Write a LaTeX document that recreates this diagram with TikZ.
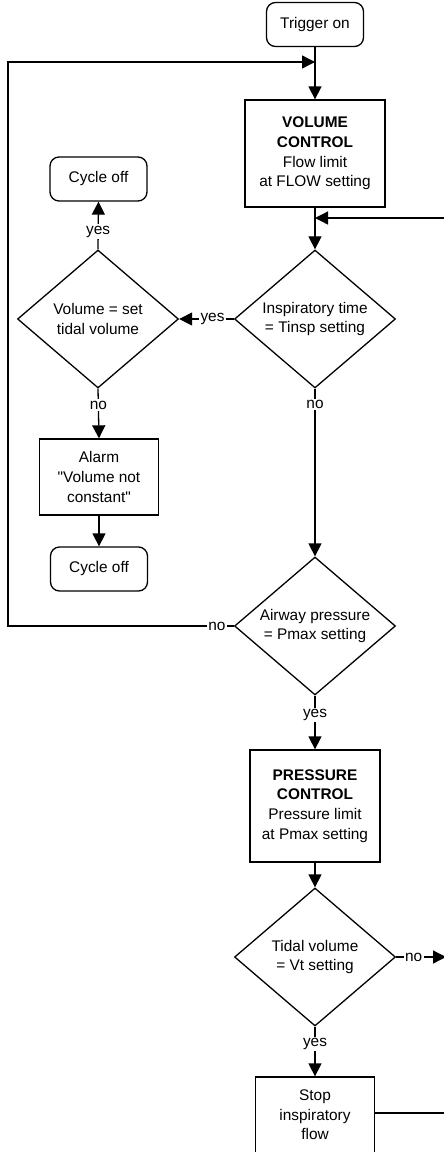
\documentclass[tikz,border=0pt]{standalone}
\usepackage{fontspec}
\setmainfont{Liberation Sans}[Ligatures=TeXOff]
\usetikzlibrary{shapes.geometric,arrows.meta}
\begin{document}
\begin{tikzpicture}[x=1pt,y=-1pt,
  every node/.style={font=\fontsize{15.4}{19.6}\selectfont},
  termbox/.style={draw, rounded corners=9pt, minimum width=97pt, minimum height=44pt, inner sep=0pt, line width=1.3pt},
  procbox/.style={draw, align=center, inner sep=0pt, line width=1.3pt},
  decision/.style={draw, diamond, shape aspect=1.17, minimum width=161pt, minimum height=138pt, inner sep=0pt, align=center, line width=1.3pt},
  conn/.style={line width=1.3pt},
  arr/.style={conn, -{Triangle[width=13pt,length=13pt]}},
  lbl/.style={fill=white, inner sep=1.5pt}
]
\useasboundingbox (0,0) rectangle (444,1152);
\clip (0,0) rectangle (444,1152);

% nodes
\node[termbox] (trig) at (315,24.5) {Trigger on};
\node[procbox, minimum width=140pt, minimum height=107pt] (vol) at (315,153.5)
  {\textbf{VOLUME}\\\textbf{CONTROL}\\Flow limit\\at FLOW setting};
\node[termbox] (cyc1) at (98.5,179) {Cycle off};
\node[decision] (d1) at (98,319) {Volume = set\\tidal volume};
\node[decision] (d2) at (315,319) {Inspiratory time\\= Tinsp setting};
\node[procbox, minimum width=119pt, minimum height=76pt] (alarm) at (99,477)
  {Alarm\\"Volume not\\constant"};
\node[termbox] (cyc2) at (99,569) {Cycle off};
\node[decision] (d3) at (315,626) {Airway pressure\\= Pmax setting};
\node[procbox, minimum width=130pt, minimum height=112pt] (pc) at (315,806)
  {\textbf{PRESSURE}\\\textbf{CONTROL}\\Pressure limit\\at Pmax setting};
\node[decision] (d4) at (315,957) {Tidal volume\\= Vt setting};
\node[procbox, minimum width=119pt, minimum height=76pt] (stop) at (315,1115)
  {Stop\\inspiratory\\flow};

% junction / free-end coordinates
\coordinate (j1) at (315,62);
\coordinate (j2) at (315,218);
\coordinate (rin) at (452,218);
\coordinate (lcorner) at (8,626);
\coordinate (rout) at (446,957);
\coordinate (sout) at (452,1113);

% connectors
\draw[arr] (trig) -- (vol);
\draw[arr] (vol) -- (d2);
\draw[arr] (rin) -- (j2);
\draw[arr] (d2.west) -- node[lbl, pos=0.39] {yes} (d1.east);
\draw[arr] (d1.north) -- node[lbl, pos=0.37] {yes} (cyc1.south);
\draw[arr] (d1.south) -- node[lbl, pos=0.33] {no} (alarm.north);
\draw[arr] (alarm) -- (cyc2);
\draw[arr] (d2.south) -- node[lbl, pos=0.095] {no} (d3.north);
\draw[arr] (d3.west) -- node[lbl, pos=0.075] {no} (lcorner) |- (j1);
\draw[arr] (d3.south) -- node[lbl, pos=0.36] {yes} (pc.north);
\draw[arr] (pc) -- (d4);
\draw[arr] (d4.east) -- node[lbl, pos=0.35] {no} (rout);
\draw[arr] (d4.south) -- node[lbl, pos=0.35] {yes} (stop.north);
\draw[conn] (stop.east |- sout) -- (sout);
\end{tikzpicture}
\end{document}
